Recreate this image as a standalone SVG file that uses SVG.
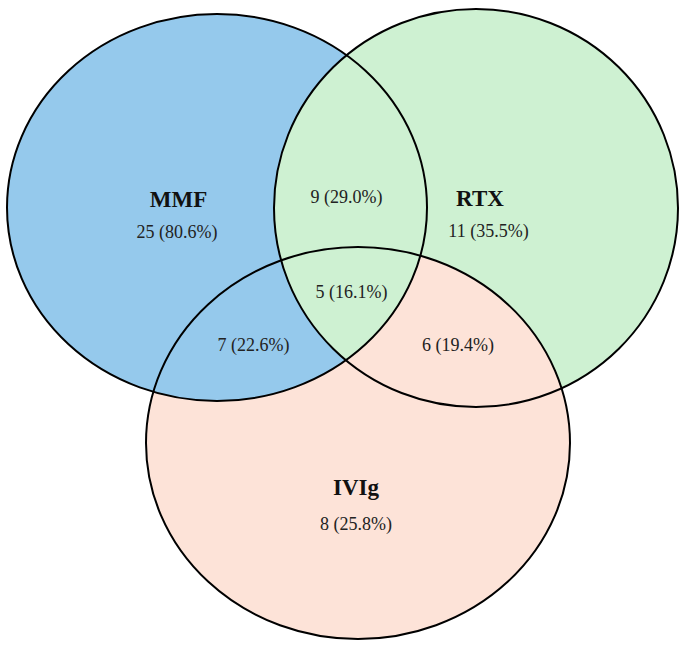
<svg xmlns="http://www.w3.org/2000/svg" width="686" height="648" viewBox="0 0 686 648">
<style>
.outline{fill:none;stroke:#000;stroke-width:2}
.lbl{font-family:"Liberation Serif","Times New Roman",serif;font-weight:bold;font-size:23px;fill:#111;text-anchor:middle}
.val{font-family:"Liberation Serif","Times New Roman",serif;font-size:18px;fill:#222;text-anchor:middle}
</style>
<defs>
<clipPath id="clipBlue"><ellipse cx="217" cy="207.5" rx="210" ry="193.5"/></clipPath>
</defs>
<rect width="686" height="648" fill="#fff"/>
<g id="fills">
<ellipse cx="476" cy="208" rx="202" ry="199" fill="#cef1d2"/>
<ellipse cx="358" cy="443" rx="212" ry="196" fill="#fde3d8"/>
<ellipse cx="217" cy="207.5" rx="210" ry="193.5" fill="#95c9ec"/>
<ellipse cx="476" cy="208" rx="202" ry="199" fill="#cef1d2" clip-path="url(#clipBlue)"/>
</g>
<g id="MMF">
<ellipse class="outline" cx="217" cy="207.5" rx="210" ry="193.5"/>
<text class="lbl" x="178.5" y="207">MMF</text>
<text class="val" x="177" y="238">25 (80.6%)</text>
</g>
<g id="RTX">
<ellipse class="outline" cx="476" cy="208" rx="202" ry="199"/>
<text class="lbl" x="480" y="206">RTX</text>
<text class="val" x="488.5" y="237">11 (35.5%)</text>
</g>
<g id="IVIg">
<ellipse class="outline" cx="358" cy="443" rx="212" ry="196"/>
<text class="lbl" x="356" y="495">IVIg</text>
<text class="val" x="356" y="530">8 (25.8%)</text>
</g>
<g id="MMF_RTX"><text class="val" x="346.5" y="203">9 (29.0%)</text></g>
<g id="MMF_RTX_IVIg"><text class="val" x="351.5" y="298">5 (16.1%)</text></g>
<g id="MMF_IVIg"><text class="val" x="253.5" y="351">7 (22.6%)</text></g>
<g id="RTX_IVIg"><text class="val" x="458" y="351">6 (19.4%)</text></g>
<g id="connectors"/>
</svg>
